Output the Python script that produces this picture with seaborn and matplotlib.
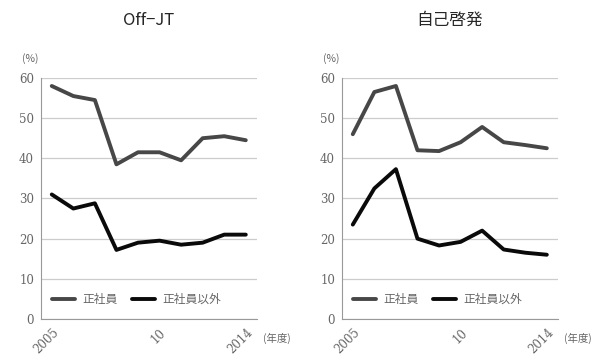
import numpy as np
import pandas as pd
import matplotlib
matplotlib.use("Agg")
import matplotlib.pyplot as plt
import seaborn as sns

sns.set_style("white")
plt.rcParams['font.family'] = ['Noto Sans CJK JP', 'DejaVu Sans']

years = [2005, 2006, 2007, 2008, 2009, 2010, 2011, 2012, 2013, 2014]
tick_years = [2005, 2010, 2014]
tick_labels = ["2005", "10", "2014"]
series_names = ["正社員", "正社員以外"]
titles = ["Off−JT", "自己啓発"]

offjt_regular = [58.0, 55.5, 54.5, 38.5, 41.5, 41.5, 39.5, 45.0, 45.5, 44.5]
offjt_other = [31.0, 27.5, 28.8, 17.2, 19.0, 19.5, 18.5, 19.0, 21.0, 21.0]
self_regular = [46.0, 56.5, 58.0, 42.0, 41.8, 44.0, 47.8, 44.0, 43.3, 42.5]
self_other = [23.5, 32.5, 37.3, 20.0, 18.3, 19.2, 22.0, 17.3, 16.5, 16.0]

panels = [(offjt_regular, offjt_other), (self_regular, self_other)]
palette = {"正社員": "#474747", "正社員以外": "#0a0a0a"}

fig = plt.figure(figsize=(6.09, 3.55), dpi=100)
lefts = [0.0673, 0.5616]
tick_color = "#666666"

for i, (reg, oth) in enumerate(panels):
    ax = fig.add_axes([lefts[i], 0.1014, 0.354, 0.679])
    df = pd.DataFrame({
        "年度": years * 2,
        "値": reg + oth,
        "区分": [series_names[0]] * len(years) + [series_names[1]] * len(years),
    })
    sns.lineplot(data=df, x="年度", y="値", hue="区分", palette=palette,
                 linewidth=2.8, ax=ax)
    ax.set_xlim(2004.5, 2014.5)
    ax.set_ylim(0, 60)
    ax.set_yticks([0, 10, 20, 30, 40, 50, 60])
    ax.yaxis.grid(True, color="#cccccc", linewidth=0.9)
    ax.set_xticks(tick_years)
    ax.set_xticklabels(tick_labels, rotation=45, ha="right", rotation_mode="anchor",
                       color=tick_color, fontsize=8.5, family="DejaVu Serif")
    ax.set_xticks(np.arange(2004.5, 2015, 1.0), minor=True)
    ax.tick_params(axis="x", which="major", length=0, pad=5)
    ax.tick_params(axis="x", which="minor", length=3, color="#999999")
    ax.tick_params(axis="y", length=3, color="#999999", labelcolor=tick_color,
                   labelsize=8.5, pad=2)
    for lab in ax.get_yticklabels():
        lab.set_family("DejaVu Serif")
    for side in ["top", "right"]:
        ax.spines[side].set_visible(False)
    ax.spines["left"].set_color("#999999")
    ax.spines["bottom"].set_color("#999999")
    ax.set_xlabel("")
    ax.set_ylabel("")
    ax.legend(loc="lower left", bbox_to_anchor=(0.0, 0.01), ncol=2, frameon=False,
              fontsize=8.5, handlelength=2.0, columnspacing=1.2, handletextpad=0.6,
              labelcolor=tick_color)
    ax.text(-0.09, 1.08, "(%)", transform=ax.transAxes, fontsize=7.5,
            color=tick_color, ha="left", va="center")
    ax.text(1.03, -0.08, "(年度)", transform=ax.transAxes, fontsize=7.5,
            color=tick_color, ha="left", va="center")
    ax.set_title(titles[i], fontsize=12, pad=38)

fig.savefig("out.png", dpi=100)
